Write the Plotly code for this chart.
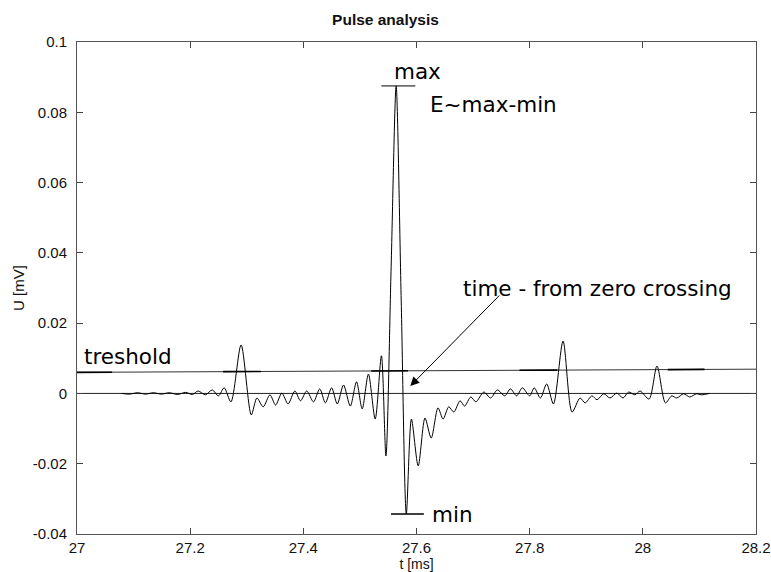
import numpy as np
import plotly.graph_objects as go

# ---- waveform ----
t_ms = [27.079, 27.093, 27.107, 27.121, 27.135, 27.149, 27.163, 27.178, 27.192, 27.204,
        27.214, 27.227, 27.239, 27.250, 27.260, 27.272, 27.290, 27.308, 27.318, 27.329,
        27.341, 27.351, 27.362, 27.373, 27.385, 27.395, 27.406, 27.418, 27.429, 27.439,
        27.450, 27.460, 27.471, 27.483, 27.494, 27.504, 27.515, 27.527, 27.538, 27.546,
        27.555, 27.564, 27.573, 27.582, 27.591, 27.603, 27.615, 27.626, 27.638, 27.647,
        27.657, 27.666, 27.677, 27.685, 27.696, 27.705, 27.719, 27.731, 27.743, 27.756,
        27.766, 27.777, 27.787, 27.800, 27.808, 27.819, 27.830, 27.842, 27.859, 27.875,
        27.889, 27.898, 27.910, 27.919, 27.931, 27.942, 27.954, 27.965, 27.975, 27.986,
        27.995, 28.011, 28.025, 28.040, 28.051, 28.060, 28.072, 28.083, 28.095, 28.103,
        28.118]
u_mv = [0.0, -0.0002, 0.0002, -0.0002, 0.0002, -0.0002, 0.0002, -0.0003, 0.0003, -0.0003,
        0.0007, -0.0004, 0.0010, -0.0007, 0.0016, -0.0024, 0.0138, -0.0061, -0.0013, -0.0038,
        -0.0004, -0.0033, 0.0001, -0.0030, 0.0007, -0.0021, 0.0007, -0.0024, 0.0013, -0.0027,
        0.0016, -0.0030, 0.0024, -0.0036, 0.0033, -0.0044, 0.0055, -0.0073, 0.0107, -0.0178,
        0.0348, 0.0875, 0.0263, -0.0343, -0.0073, -0.0206, -0.0070, -0.0127, -0.0041, -0.0073,
        -0.0038, -0.0053, -0.0021, -0.0036, -0.0010, -0.0024, 0.0004, -0.0013, 0.0010, -0.0007,
        0.0013, -0.0007, 0.0016, -0.0007, 0.0016, -0.0013, 0.0027, -0.0030, 0.0149, -0.0053,
        -0.0013, -0.0027, -0.0007, -0.0018, -0.0001, -0.0013, 0.0001, -0.0013, 0.0004, -0.0004,
        0.0007, -0.0016, 0.0078, -0.0027, -0.0007, -0.0013, -0.0001, -0.0010, -0.0001, -0.0004,
        0.0]

# ---- reference lines ----
threshold_t = [27.0, 28.2]
threshold_u = [0.0060, 0.0069]
zero_t = [27.0, 28.2]
zero_u = [0.0, 0.0]
trigger_start = [27.0, 27.258, 27.520, 27.782, 28.044]
trigger_end = [27.062, 27.325, 27.585, 27.849, 28.109]
max_level = 0.0875
max_span = [27.538, 27.598]
min_level = -0.0343
min_span = [27.555, 27.613]

x_ticks = [27, 27.2, 27.4, 27.6, 27.8, 28, 28.2]
x_tick_text = ["27", "27.2", "27.4", "27.6", "27.8", "28", "28.2"]
y_ticks = [-0.04, -0.02, 0, 0.02, 0.04, 0.06, 0.08, 0.1]
y_tick_text = ["-0.04", "-0.02", "0", "0.02", "0.04", "0.06", "0.08", "0.1"]

fig = go.Figure()

fig.add_trace(go.Scatter(x=zero_t, y=zero_u, mode="lines",
                         line=dict(color="#222", width=1), hoverinfo="skip"))
fig.add_trace(go.Scatter(x=threshold_t, y=threshold_u, mode="lines",
                         line=dict(color="#333", width=1), hoverinfo="skip"))
for a, b in zip(trigger_start, trigger_end):
    ys = list(np.interp([a, b], threshold_t, threshold_u))
    fig.add_trace(go.Scatter(x=[a, b], y=ys, mode="lines",
                             line=dict(color="black", width=1.6), hoverinfo="skip"))
fig.add_trace(go.Scatter(x=max_span, y=[max_level, max_level], mode="lines",
                         line=dict(color="black", width=1), hoverinfo="skip"))
fig.add_trace(go.Scatter(x=min_span, y=[min_level, min_level], mode="lines",
                         line=dict(color="black", width=1.5), hoverinfo="skip"))
fig.add_trace(go.Scatter(x=t_ms, y=u_mv, mode="lines",
                         line=dict(color="black", width=1, shape="spline", smoothing=0.8)))

ann_font = dict(family="DejaVu Sans", size=21.5, color="black")
fig.add_annotation(x=27.601, y=0.0915, text="max", showarrow=False, font=ann_font,
                   xanchor="center", yanchor="middle")
fig.add_annotation(x=27.620, y=0.0821, text="E~max-min", showarrow=False, font=ann_font,
                   xanchor="left", yanchor="middle")
fig.add_annotation(x=27.624, y=-0.0345, text="min", showarrow=False, font=ann_font,
                   xanchor="left", yanchor="middle")
fig.add_annotation(x=27.009, y=0.0104, text="treshold", showarrow=False, font=ann_font,
                   xanchor="left", yanchor="middle")
fig.add_annotation(x=27.678, y=0.0300, text="time - from zero crossing", showarrow=False,
                   font=ann_font, xanchor="left", yanchor="middle")
fig.add_annotation(x=27.589, y=0.0021, ax=27.749, ay=0.0283, axref="x", ayref="y",
                   xref="x", yref="y", text="", showarrow=True, arrowhead=2,
                   arrowsize=1.8, arrowwidth=1, arrowcolor="black")

tick_font = dict(family="Liberation Sans", size=15, color="#111")
title_font = dict(family="Liberation Sans", size=14, color="#111")
fig.update_layout(
    width=771, height=572,
    margin=dict(l=77, r=15, t=42, b=38, autoexpand=False),
    paper_bgcolor="white", plot_bgcolor="white",
    showlegend=False,
    title=dict(text="<b>Pulse analysis</b>", x=0.5, xref="container", xanchor="center",
               y=1 - 20 / 572, yref="container", yanchor="middle",
               font=dict(family="Liberation Sans", size=15.5, color="#111")),
    xaxis=dict(range=[27, 28.2], tickvals=x_ticks, ticktext=x_tick_text,
               ticks="inside", ticklen=6, tickcolor="#444", mirror="ticks",
               showline=True, linecolor="#555", linewidth=1, showgrid=False,
               zeroline=False, tickfont=tick_font, ticklabelstandoff=0,
               ticklabeloverflow="allow", automargin=False,
               title=dict(text="t [ms]", font=title_font, standoff=8)),
    yaxis=dict(range=[-0.04, 0.1], tickvals=y_ticks, ticktext=y_tick_text,
               ticks="inside", ticklen=6, tickcolor="#444", mirror="ticks",
               showline=True, linecolor="#555", linewidth=1, showgrid=False,
               zeroline=False, tickfont=tick_font, ticklabelstandoff=6,
               ticklabeloverflow="allow", automargin=False,
               title=dict(text="U [mV]", font=tick_font, standoff=4)),
)

fig.write_html("out.html", config={"displayModeBar": False},
               post_script="document.body.style.margin='0';document.body.style.overflow='hidden';")
